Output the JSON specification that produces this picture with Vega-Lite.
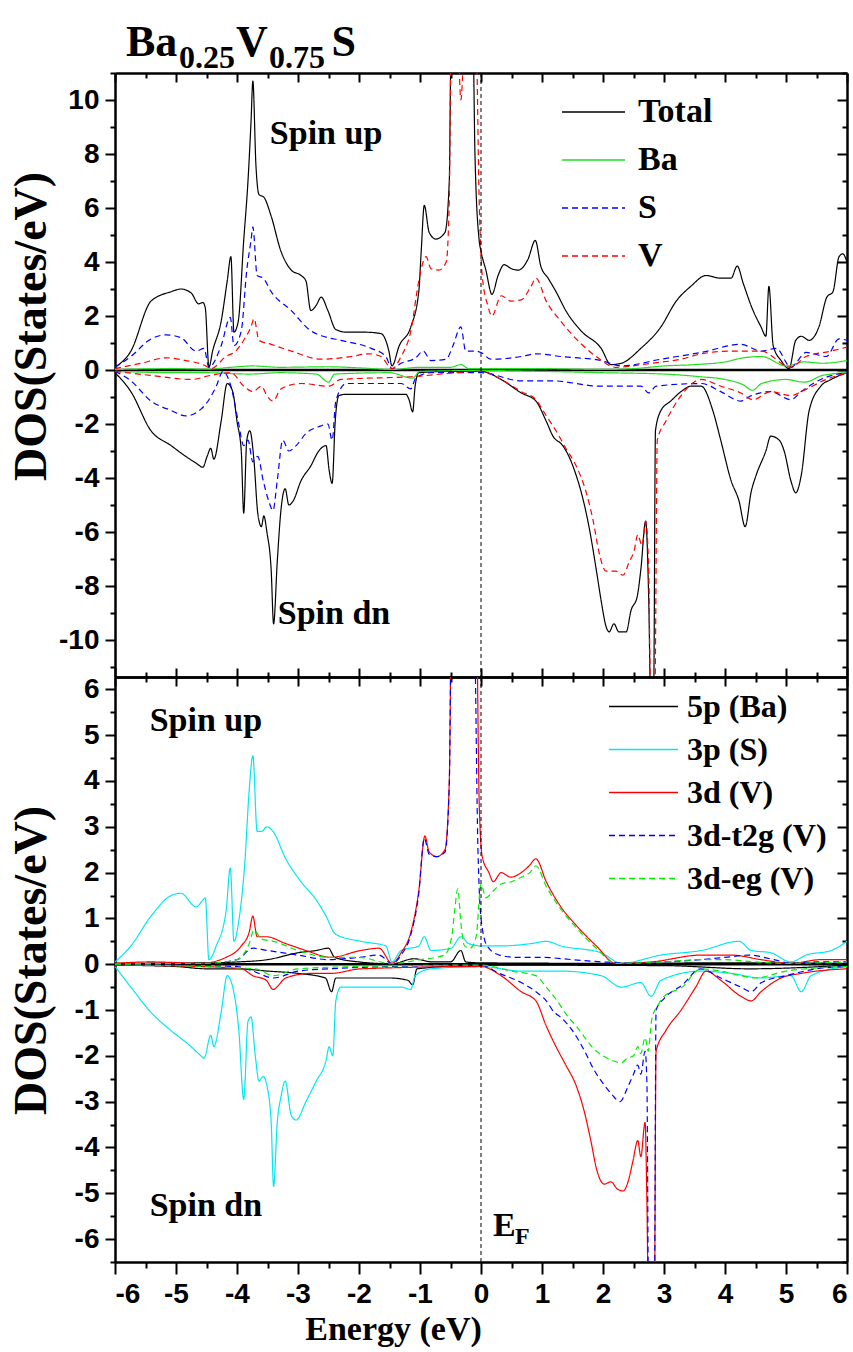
{
"$schema": "https://vega.github.io/schema/vega-lite/v6.json",
"padding": {"left": 7, "top": 20, "right": 7, "bottom": 5},
"spacing": 0,
"bounds": "flush",
"config": {
 "view": {"stroke": null},
 "axis": {"grid": false, "domainColor": "#000", "domainWidth": 2.5, "tickColor": "#000", "tickWidth": 2, "labelColor": "#000", "labelFont": "Liberation Sans", "labelFontWeight": "bold", "labelFontSize": 28, "titleColor": "#000", "titleFont": "Liberation Serif", "titleFontWeight": "bold"},
 "legend": {"labelFont": "Liberation Serif", "labelFontWeight": "bold", "labelColor": "#000", "symbolType": "stroke"},
 "text": {"font": "Liberation Serif", "fontWeight": "bold", "color": "#000"}
},
"resolve": {"scale": {"x": "independent", "y": "independent", "color": "independent", "strokeDash": "independent"}, "legend": {"color": "independent", "strokeDash": "independent"}},
"datasets": {
 "one": [{}],
 "top": [
  {"s": "Total", "p": "u", "E": [-6,-5.74,-5.41,-5.08,-4.92,-4.75,-4.63,-4.56,-4.52,-4.46,-4.4,-4.26,-4.16,-4.1,-4.05,-3.98,-3.89,-3.82,-3.77,-3.74,-3.69,-3.64,-3.56,-3.44,-3.28,-3.11,-2.95,-2.87,-2.79,-2.7,-2.62,-2.51,-2.38,-2.2,-1.9,-1.64,-1.51,-1.46,-1.34,-1.15,-1.02,-0.98,-0.93,-0.85,-0.74,-0.59,-0.52,-0.49,-0.13,-0.1,-0.03,0,0.08,0.18,0.28,0.38,0.5,0.61,0.77,0.89,0.98,1.1,1.23,1.39,1.64,1.97,2.13,2.3,2.62,2.95,3.2,3.44,3.69,3.93,4.1,4.2,4.3,4.46,4.59,4.67,4.72,4.79,4.92,5.05,5.16,5.25,5.38,5.54,5.67,5.77,5.87,5.93,6],
   "d": [0.1,0.7,2.55,2.9,3.0,2.85,2.45,2.5,2.3,0.1,0.7,1.8,3.3,4.2,1.4,1.8,4.8,7.0,9.2,10.7,7.6,6.5,6.4,5.7,4.4,3.7,3.5,3.3,2.2,2.4,2.7,2.2,1.5,1.4,1.4,1.35,0.7,0.15,0.9,1.6,2.9,4.4,6.1,5.1,4.85,5.1,7.0,12,12,8.1,4.8,4.4,3.7,2.8,3.5,3.9,3.75,3.7,4.1,4.8,3.85,3.4,2.9,2.2,1.45,0.8,0.2,0.25,0.8,1.6,2.55,3.1,3.5,3.4,3.4,3.85,3.2,2.2,1.6,1.25,3.1,0.9,0.35,0.05,1.1,1.25,1.1,1.6,2.7,2.9,4.2,4.3,4.0]},
  {"s": "Total", "p": "d", "E": [-6,-5.74,-5.41,-5.08,-4.84,-4.67,-4.56,-4.49,-4.43,-4.38,-4.26,-4.16,-4.07,-4.0,-3.93,-3.89,-3.84,-3.79,-3.72,-3.66,-3.6,-3.56,-3.51,-3.44,-3.4,-3.34,-3.28,-3.21,-3.15,-3.08,-2.95,-2.79,-2.66,-2.54,-2.49,-2.44,-2.39,-2.33,-2.21,-1.8,-1.23,-1.18,-1.12,-1.08,-1.02,-0.5,0,0.33,0.66,0.9,1.07,1.18,1.34,1.48,1.56,1.64,1.77,1.89,1.97,2.05,2.1,2.18,2.26,2.38,2.46,2.56,2.62,2.7,2.75,2.78,2.83,2.86,2.95,3.11,3.28,3.44,3.61,3.8,3.93,4.1,4.23,4.33,4.43,4.51,4.67,4.75,4.89,4.97,5.08,5.16,5.25,5.38,5.57,5.74,6],
   "d": [-0.1,-0.8,-2.25,-2.8,-3.2,-3.45,-3.6,-3.2,-2.9,-3.3,-1.9,-0.5,-0.8,-1.9,-3.0,-5.3,-2.6,-2.25,-3.4,-5.3,-5.8,-5.4,-6.0,-7.4,-9.4,-7.1,-5.2,-4.4,-5.0,-4.85,-4.1,-3.55,-3.0,-2.8,-3.7,-4.2,-1.9,-0.95,-0.9,-0.9,-0.9,-1.1,-1.55,-0.6,-0.1,-0.05,-0.05,-0.35,-0.85,-1.15,-1.9,-2.45,-2.8,-3.4,-3.9,-4.5,-5.8,-7.4,-8.55,-9.5,-9.7,-9.4,-9.7,-9.7,-8.9,-8.4,-7.4,-5.6,-8.55,-12,-12,-2.25,-1.5,-1.15,-0.8,-0.6,-0.6,-1.5,-2.6,-4.1,-4.85,-5.8,-4.5,-3.9,-3.0,-2.45,-2.6,-3.0,-4.1,-4.55,-3.9,-1.5,-0.6,-0.35,-0.1]},
  {"s": "Ba", "p": "u", "E": [-6,-5,-4.5,-4.1,-3.74,-3.3,-2.5,-2,-1.46,-1,-0.5,-0.33,-0.2,0,1,2,2.5,3,3.5,4,4.3,4.6,5,5.3,5.6,6],
   "d": [0.02,0.05,0.03,0.1,0.15,0.1,0.12,0.08,0.02,0.1,0.1,0.2,0.05,0.05,0.05,0.02,0.05,0.15,0.2,0.3,0.45,0.5,0.15,0.3,0.25,0.35]},
  {"s": "Ba", "p": "d", "E": [-6,-5,-4.5,-3.8,-3.3,-2.7,-2.5,-2.4,-1.5,-1.12,-1,0,1,2,3,3.6,4,4.3,4.45,4.6,5,5.3,5.6,6],
   "d": [-0.05,-0.1,-0.1,-0.15,-0.1,-0.15,-0.45,-0.15,-0.1,-0.3,-0.05,-0.02,-0.05,-0.1,-0.15,-0.25,-0.35,-0.55,-0.75,-0.5,-0.35,-0.45,-0.2,-0.1]},
  {"s": "S", "p": "u", "E": [-6,-5.74,-5.41,-5.16,-4.92,-4.67,-4.54,-4.46,-4.26,-4.11,-4.05,-3.93,-3.84,-3.77,-3.74,-3.67,-3.57,-3.44,-3.11,-2.79,-2.59,-2.3,-1.8,-1.56,-1.46,-1.31,-1.07,-0.95,-0.82,-0.57,-0.46,-0.33,-0.25,-0.08,0,0.16,0.66,0.9,1.31,1.97,2.3,2.95,3.61,4.26,4.59,4.84,5.08,5.33,5.66,5.87,6],
   "d": [0.1,0.5,1.15,1.3,1.2,0.7,0.8,0.1,0.9,1.95,0.9,1.45,3.7,4.8,5.3,3.5,3.4,2.9,2.2,1.45,1.25,1.1,0.8,0.5,0.05,0.25,0.45,0.7,0.35,0.4,0.9,1.6,0.7,0.7,0.65,0.4,0.5,0.6,0.5,0.35,0.15,0.4,0.65,0.95,0.7,0.8,0.1,0.65,0.5,1.15,1.1]},
  {"s": "S", "p": "d", "E": [-6,-5.74,-5.41,-5.08,-4.84,-4.59,-4.46,-4.34,-4.23,-4.1,-3.98,-3.89,-3.82,-3.74,-3.66,-3.57,-3.48,-3.41,-3.34,-3.25,-3.15,-3.03,-2.87,-2.66,-2.51,-2.44,-2.38,-2.21,-1.31,-1.15,-1.07,-0.82,0,0.66,1.15,1.97,2.62,2.75,2.87,3.61,3.93,4.26,4.43,4.75,5.08,5.25,5.57,6],
   "d": [-0.05,-0.4,-1.15,-1.5,-1.7,-1.45,-1.1,-0.6,-0.05,-0.6,-1.9,-2.8,-2.6,-3.4,-3.2,-4.1,-4.85,-5.2,-4.1,-2.6,-3.0,-2.8,-2.35,-2.1,-2.0,-2.6,-1.15,-0.5,-0.5,-0.7,-0.3,-0.1,-0.1,-0.4,-0.4,-0.6,-0.6,-0.85,-0.6,-0.5,-0.8,-1.15,-0.95,-0.8,-1.1,-0.8,-0.35,-0.1]},
  {"s": "V", "p": "u", "E": [-6,-5.57,-5.16,-4.84,-4.51,-4.43,-4.18,-4.02,-3.89,-3.77,-3.72,-3.64,-3.44,-3.11,-2.62,-2.13,-1.84,-1.64,-1.46,-1.31,-1.15,-1.02,-0.95,-0.9,-0.82,-0.69,-0.57,-0.52,-0.49,-0.38,-0.33,-0.27,-0.08,-0.03,0.02,0.11,0.18,0.33,0.49,0.66,0.82,0.9,1.07,1.31,1.56,1.89,2.21,2.79,3.28,3.61,4.1,4.59,5.08,5.33,5.74,6],
   "d": [0.05,0.25,0.45,0.35,0.15,0.05,0.5,0.7,1.1,1.6,1.9,1.1,0.95,0.7,0.4,0.5,0.6,0.5,0.05,0.5,1.45,3.3,4.0,4.2,3.75,3.7,4.0,6.3,12,12,10.0,12,12,6.3,3.5,2.4,2.0,2.75,2.55,2.6,3.1,3.4,2.55,1.8,1.15,0.5,0.1,0.25,0.4,0.6,0.7,0.7,0.1,0.5,0.7,0.85]},
  {"s": "V", "p": "d", "E": [-6,-5.41,-4.75,-4.43,-4.1,-3.89,-3.74,-3.6,-3.51,-3.41,-3.28,-2.95,-2.49,-2.3,-1.15,0,0.33,0.66,0.9,1.07,1.23,1.39,1.56,1.72,1.84,1.93,2.05,2.21,2.33,2.43,2.51,2.57,2.64,2.7,2.75,2.78,2.85,2.89,3.03,3.28,3.61,3.93,4.26,4.46,4.75,5.08,5.25,5.66,6],
   "d": [-0.05,-0.2,-0.35,-0.2,-0.1,-0.6,-0.8,-0.6,-0.95,-1.15,-0.7,-0.5,-0.6,-0.35,-0.25,-0.05,-0.35,-0.8,-1.1,-1.7,-2.25,-2.9,-3.55,-4.5,-5.6,-6.7,-7.45,-7.45,-7.6,-7.1,-6.7,-6.1,-6.5,-5.6,-7.45,-12,-12,-2.6,-1.9,-0.95,-0.35,-0.6,-0.85,-1.1,-0.8,-0.95,-0.8,-0.35,-0.1]}
 ],
 "bot": [
  {"s": "5p (Ba)", "p": "u", "E": [-6,-4.5,-4,-3.5,-3,-2.7,-2.5,-2.4,-2,-1.46,-1.1,-0.8,-0.5,-0.33,-0.25,0,2,4,6],
   "d": [0.02,0.03,0.05,0.1,0.25,0.3,0.35,0.15,0.05,0.01,0.12,0.05,0.05,0.3,0.05,0.03,0.02,0.03,0.02]},
  {"s": "5p (Ba)", "p": "d", "E": [-6,-5,-4.5,-4,-3.5,-3,-2.55,-2.45,-2.38,-2,-1.5,-1.2,-1.12,-1.05,0,3,4.4,6],
   "d": [-0.02,-0.05,-0.1,-0.1,-0.15,-0.2,-0.3,-0.6,-0.3,-0.3,-0.3,-0.35,-0.45,-0.1,-0.02,-0.03,-0.1,-0.02]},
  {"s": "3p (S)", "p": "u", "E": [-6,-5.74,-5.41,-5.08,-4.92,-4.67,-4.56,-4.52,-4.46,-4.34,-4.18,-4.11,-4.05,-3.97,-3.87,-3.8,-3.74,-3.67,-3.6,-3.51,-3.41,-3.2,-2.95,-2.7,-2.54,-2.38,-1.97,-1.56,-1.46,-1.31,-1.02,-0.93,-0.82,-0.49,-0.33,-0.2,0,0.33,0.82,1.07,1.31,1.97,2.3,2.95,3.61,4.23,4.43,4.75,5.08,5.33,5.74,6],
   "d": [0.05,0.4,1.05,1.5,1.55,1.25,1.4,1.45,0.1,0.4,1.15,2.1,0.5,0.95,2.25,3.8,4.55,2.9,2.9,3.0,2.9,2.3,1.8,1.4,1.05,0.65,0.5,0.4,0.05,0.3,0.4,0.6,0.3,0.35,0.6,0.45,0.4,0.4,0.45,0.5,0.4,0.25,0.02,0.2,0.3,0.5,0.3,0.25,0.05,0.2,0.3,0.5]},
  {"s": "3p (S)", "p": "d", "E": [-6,-5.74,-5.41,-5.08,-4.75,-4.59,-4.54,-4.43,-4.38,-4.26,-4.16,-4.07,-3.97,-3.89,-3.82,-3.77,-3.7,-3.64,-3.57,-3.51,-3.44,-3.4,-3.34,-3.28,-3.21,-3.11,-3.03,-2.87,-2.7,-2.54,-2.49,-2.43,-2.38,-2.3,-1.31,-1.15,-1.08,-0.82,0,0.66,1.31,1.97,2.3,2.62,2.79,2.95,3.61,4.1,4.59,5.08,5.25,5.41,6],
   "d": [-0.05,-0.5,-1.05,-1.45,-1.8,-2.0,-2.05,-1.55,-1.8,-1.05,-0.25,-0.5,-1.45,-2.95,-1.25,-1.15,-2.0,-2.55,-2.45,-2.65,-3.45,-4.85,-3.45,-2.9,-2.55,-3.3,-3.4,-3.0,-2.55,-2.1,-1.8,-2.0,-0.8,-0.5,-0.5,-0.55,-0.25,-0.1,-0.05,-0.15,-0.15,-0.25,-0.5,-0.4,-0.7,-0.35,-0.15,-0.2,-0.3,-0.25,-0.6,-0.25,-0.05]},
  {"s": "3d (V)", "p": "u", "E": [-6,-5.41,-4.59,-4.18,-3.93,-3.8,-3.74,-3.67,-3.52,-3.2,-2.87,-2.46,-1.97,-1.67,-1.46,-1.31,-1.15,-1.02,-0.92,-0.85,-0.72,-0.59,-0.52,-0.48,-0.08,-0.03,0.02,0.13,0.2,0.33,0.49,0.66,0.79,0.9,1.07,1.31,1.56,1.89,2.21,2.79,3.61,4.1,4.59,5.08,5.57,6],
   "d": [0.02,0.05,0.02,0.15,0.4,0.7,1.05,0.6,0.6,0.45,0.3,0.15,0.3,0.35,0.02,0.25,0.7,1.6,2.8,2.45,2.35,2.5,4.0,8,8,3.55,2.35,2.0,1.8,2.0,1.9,2.0,2.15,2.3,1.8,1.25,0.85,0.4,0.02,0.05,0.2,0.2,0.1,0.02,0.1,0.1]},
  {"s": "3d (V)", "p": "d", "E": [-6,-4.59,-3.93,-3.74,-3.52,-3.41,-3.2,-2.79,-2.46,-1.97,0,0.33,0.66,0.9,1.07,1.23,1.39,1.56,1.69,1.8,1.9,2.02,2.13,2.23,2.33,2.41,2.49,2.57,2.62,2.69,2.72,2.75,2.84,2.87,3.03,3.28,3.52,3.69,3.93,4.26,4.43,4.59,4.92,5.25,6],
   "d": [-0.02,-0.05,-0.1,-0.25,-0.35,-0.55,-0.3,-0.2,-0.2,-0.1,-0.05,-0.25,-0.6,-0.8,-1.35,-1.8,-2.2,-2.65,-3.2,-3.85,-4.5,-4.8,-4.75,-4.9,-4.95,-4.75,-4.3,-3.85,-4.2,-3.45,-5.2,-8,-8,-1.9,-1.45,-1.0,-0.5,-0.15,-0.35,-0.7,-0.8,-0.6,-0.3,-0.2,-0.1]},
  {"s": "3d-t2g (V)", "p": "u", "E": [-6,-4.5,-4,-3.74,-3.5,-3,-2.5,-2,-1.67,-1.46,-1.31,-1.15,-1.02,-0.93,-0.85,-0.72,-0.59,-0.52,-0.48,-0.12,-0.05,0,0.1,0.3,0.6,1,1.5,2,2.5,3,3.6,4,4.4,4.8,5.1,5.5,6],
   "d": [0.01,0.02,0.1,0.35,0.3,0.2,0.1,0.15,0.2,0.01,0.2,0.65,1.55,2.75,2.4,2.35,2.45,3.9,8,8,2.5,1.0,0.4,0.2,0.15,0.15,0.1,0.05,0.02,0.05,0.1,0.15,0.2,0.1,0.02,0.05,0.05]},
  {"s": "3d-t2g (V)", "p": "d", "E": [-6,-4,-3.74,-3.4,-3,-2.5,-1.5,0,0.3,0.66,0.9,1.07,1.2,1.3,1.5,1.7,1.85,2,2.15,2.28,2.4,2.5,2.57,2.62,2.69,2.72,2.75,2.84,2.87,3,3.3,3.6,3.93,4.26,4.43,4.6,5,5.5,6],
   "d": [-0.01,-0.05,-0.15,-0.3,-0.15,-0.1,-0.05,-0.02,-0.2,-0.4,-0.6,-0.8,-1.05,-1.15,-1.45,-1.9,-2.3,-2.6,-2.85,-3.0,-2.7,-2.4,-2.2,-2.4,-1.9,-2.6,-8,-8,-1.0,-0.75,-0.45,-0.1,-0.3,-0.5,-0.6,-0.4,-0.25,-0.1,-0.05]},
  {"s": "3d-eg (V)", "p": "u", "E": [-6,-4.5,-4,-3.8,-3.72,-3.6,-3.4,-3,-2.5,-2,-1.46,-1,-0.6,-0.48,-0.43,-0.38,-0.33,-0.27,-0.18,-0.08,0,0.08,0.2,0.33,0.5,0.66,0.8,0.9,1.07,1.31,1.56,1.89,2.21,3,3.6,4,4.5,5,6],
   "d": [0.01,0.02,0.1,0.45,0.75,0.55,0.5,0.3,0.15,0.15,0.01,0.1,0.2,0.6,1.2,1.65,0.9,0.4,0.35,0.6,1.75,1.45,1.6,1.75,1.8,1.9,2.0,2.15,1.7,1.2,0.8,0.35,0.02,0.05,0.1,0.1,0.05,0.02,0.05]},
  {"s": "3d-eg (V)", "p": "d", "E": [-6,-3.7,-3.4,-3,-2,0,0.5,0.9,1.07,1.25,1.4,1.56,1.7,1.85,2,2.15,2.3,2.4,2.5,2.57,2.62,2.69,2.74,2.8,2.9,3,3.3,3.6,3.93,4.26,4.5,5,6],
   "d": [-0.01,-0.1,-0.25,-0.1,-0.05,-0.02,-0.15,-0.25,-0.5,-0.8,-1.1,-1.35,-1.6,-1.85,-2.0,-2.1,-2.15,-2.05,-2.0,-1.8,-1.95,-1.6,-1.9,-1.2,-0.9,-0.7,-0.5,-0.1,-0.15,-0.25,-0.3,-0.15,-0.05]}
 ]
},
"vconcat": [
 {
  "width": 732, "height": 604,
  "resolve": {"axis": {"x": "independent", "y": "independent"}},
  "layer": [
   {"data": {"name": "one"}, "mark": {"type": "rule", "color": "#000", "strokeWidth": 2.5},
    "encoding": {"y": {"datum": 0, "type": "quantitative", "scale": {"domain": [-11.37, 11], "nice": false, "zero": false}, "axis": null}}},
   {"data": {"name": "top"}, "transform": [{"flatten": ["E", "d"]}],
    "mark": {"type": "line", "clip": true, "strokeWidth": 1.2, "interpolate": "monotone"},
    "encoding": {
     "x": {"field": "E", "type": "quantitative", "scale": {"domain": [-6, 6], "nice": false, "zero": false},
       "axis": {"orient": "bottom", "values": [-6,-5.5,-5,-4.5,-4,-3.5,-3,-2.5,-2,-1.5,-1,-0.5,0,0.5,1,1.5,2,2.5,3,3.5,4,4.5,5,5.5,6], "labels": false, "title": null, "tickSize": {"condition": {"test": "datum.value % 1 !== 0", "value": -5}, "value": -9}}},
     "y": {"field": "d", "type": "quantitative", "scale": {"domain": [-11.37, 11], "nice": false, "zero": false},
       "axis": {"orient": "left", "values": [-11,-10,-9,-8,-7,-6,-5,-4,-3,-2,-1,0,1,2,3,4,5,6,7,8,9,10,11], "labelExpr": "datum.value % 2 === 0 ? '' + datum.value : ''", "tickSize": {"condition": {"test": "datum.value % 2 !== 0", "value": 5}, "value": 10}, "labelPadding": 6, "title": "DOS(States/eV)", "titleFontSize": 46, "titleX": -84, "titleY": 253, "titleAngle": -90, "titleBaseline": "middle", "titleAlign": "center"}},
     "color": {"field": "s", "type": "nominal", "scale": {"domain": ["Total", "Ba", "S", "V"], "range": ["#000000", "#22dd22", "#0000ff", "#ff0000"]},
       "legend": {"title": null, "orient": "none", "legendX": 446, "legendY": 16, "symbolType": "stroke", "symbolSize": 3969, "symbolStrokeWidth": 1.5, "labelFontSize": 34, "labelOffset": 12, "rowPadding": 2, "clipHeight": 46}},
     "strokeDash": {"field": "s", "type": "nominal", "scale": {"domain": ["Total", "Ba", "S", "V"], "range": [[1, 0], [1, 0], [6, 4], [6, 4]]},
       "legend": {"title": null, "orient": "none", "legendX": 446, "legendY": 16, "symbolType": "stroke", "symbolSize": 3969, "symbolStrokeWidth": 1.5, "labelFontSize": 34, "labelOffset": 12, "rowPadding": 2, "clipHeight": 46}},
     "detail": {"field": "p"}
    }},
   {"data": {"name": "one"}, "mark": {"type": "rule", "color": "#000", "strokeWidth": 1, "strokeDash": [4, 3]},
    "encoding": {"x": {"datum": 0, "type": "quantitative", "scale": {"domain": [-6, 6], "nice": false, "zero": false}, "axis": null}}},
   {"data": {"name": "one"}, "mark": {"type": "text", "text": "Spin up", "fontSize": 34, "align": "center", "baseline": "middle"},
    "encoding": {
     "x": {"datum": -2.54, "type": "quantitative", "scale": {"domain": [-6, 6], "nice": false, "zero": false},
       "axis": {"orient": "top", "values": [-6,-5.5,-5,-4.5,-4,-3.5,-3,-2.5,-2,-1.5,-1,-0.5,0,0.5,1,1.5,2,2.5,3,3.5,4,4.5,5,5.5,6], "labels": false, "title": null, "tickSize": {"condition": {"test": "datum.value % 1 !== 0", "value": -5}, "value": -9}}},
     "y": {"datum": 8.74, "type": "quantitative", "scale": {"domain": [-11.37, 11], "nice": false, "zero": false},
       "axis": {"orient": "right", "values": [-11,-10,-9,-8,-7,-6,-5,-4,-3,-2,-1,0,1,2,3,4,5,6,7,8,9,10,11], "labels": false, "title": null, "tickSize": {"condition": {"test": "datum.value % 2 !== 0", "value": -5}, "value": -10}}}
    }},
   {"data": {"name": "one"}, "mark": {"type": "text", "text": "Spin dn", "fontSize": 34, "align": "center", "baseline": "middle"},
    "encoding": {"x": {"datum": -2.41, "type": "quantitative", "axis": null}, "y": {"datum": -9.04, "type": "quantitative", "axis": null}}},
   {"data": {"name": "one"}, "mark": {"type": "text", "text": "Ba", "fontSize": 44, "align": "left", "baseline": "alphabetic"},
    "encoding": {"x": {"datum": -5.82, "type": "quantitative", "axis": null}, "y": {"datum": 11.63, "type": "quantitative", "axis": null}}},
   {"data": {"name": "one"}, "mark": {"type": "text", "text": "0.25", "fontSize": 32, "align": "left", "baseline": "alphabetic"},
    "encoding": {"x": {"datum": -4.951, "type": "quantitative", "axis": null}, "y": {"datum": 11.19, "type": "quantitative", "axis": null}}},
   {"data": {"name": "one"}, "mark": {"type": "text", "text": "V", "fontSize": 44, "align": "left", "baseline": "alphabetic"},
    "encoding": {"x": {"datum": -4.016, "type": "quantitative", "axis": null}, "y": {"datum": 11.63, "type": "quantitative", "axis": null}}},
   {"data": {"name": "one"}, "mark": {"type": "text", "text": "0.75", "fontSize": 32, "align": "left", "baseline": "alphabetic"},
    "encoding": {"x": {"datum": -3.475, "type": "quantitative", "axis": null}, "y": {"datum": 11.19, "type": "quantitative", "axis": null}}},
   {"data": {"name": "one"}, "mark": {"type": "text", "text": "S", "fontSize": 44, "align": "left", "baseline": "alphabetic"},
    "encoding": {"x": {"datum": -2.45, "type": "quantitative", "axis": null}, "y": {"datum": 11.63, "type": "quantitative", "axis": null}}}
  ]
 },
 {
  "width": 732, "height": 585,
  "resolve": {"axis": {"x": "independent", "y": "independent"}},
  "layer": [
   {"data": {"name": "one"}, "mark": {"type": "rule", "color": "#000", "strokeWidth": 2.5},
    "encoding": {"y": {"datum": 0, "type": "quantitative", "scale": {"domain": [-6.5, 6.27], "nice": false, "zero": false}, "axis": null}}},
   {"data": {"name": "bot"}, "transform": [{"flatten": ["E", "d"]}],
    "mark": {"type": "line", "clip": true, "strokeWidth": 1.2, "interpolate": "monotone"},
    "encoding": {
     "x": {"field": "E", "type": "quantitative", "scale": {"domain": [-6, 6], "nice": false, "zero": false},
       "axis": {"orient": "bottom", "values": [-6,-5.5,-5,-4.5,-4,-3.5,-3,-2.5,-2,-1.5,-1,-0.5,0,0.5,1,1.5,2,2.5,3,3.5,4,4.5,5,5.5,6], "labelExpr": "datum.value % 1 === 0 ? '' + datum.value : ''", "tickSize": {"condition": {"test": "datum.value % 1 !== 0", "value": 6}, "value": 12}, "labelPadding": 6, "title": "Energy (eV)", "titleFontSize": 34, "titleX": 278, "titleY": 77, "titleBaseline": "alphabetic", "titleAlign": "center"}},
     "y": {"field": "d", "type": "quantitative", "scale": {"domain": [-6.5, 6.27], "nice": false, "zero": false},
       "axis": {"orient": "left", "values": [-6.5,-6,-5.5,-5,-4.5,-4,-3.5,-3,-2.5,-2,-1.5,-1,-0.5,0,0.5,1,1.5,2,2.5,3,3.5,4,4.5,5,5.5,6], "labelExpr": "datum.value % 1 === 0 ? '' + datum.value : ''", "tickSize": {"condition": {"test": "datum.value % 1 !== 0", "value": 5}, "value": 10}, "labelPadding": 6, "title": "DOS(States/eV)", "titleFontSize": 46, "titleX": -84, "titleY": 283, "titleAngle": -90, "titleBaseline": "middle", "titleAlign": "center"}},
     "color": {"field": "s", "type": "nominal", "scale": {"domain": ["5p (Ba)", "3p (S)", "3d (V)", "3d-t2g (V)", "3d-eg (V)"], "range": ["#000000", "#00e8f0", "#ff0000", "#0000ff", "#00ee00"]},
       "legend": {"title": null, "orient": "none", "legendX": 493, "legendY": 9, "symbolType": "stroke", "symbolSize": 4761, "symbolStrokeWidth": 1.5, "labelFontSize": 32, "labelOffset": 8, "rowPadding": 2, "clipHeight": 41}},
     "strokeDash": {"field": "s", "type": "nominal", "scale": {"domain": ["5p (Ba)", "3p (S)", "3d (V)", "3d-t2g (V)", "3d-eg (V)"], "range": [[1, 0], [1, 0], [1, 0], [6, 4], [6, 4]]},
       "legend": {"title": null, "orient": "none", "legendX": 493, "legendY": 9, "symbolType": "stroke", "symbolSize": 4761, "symbolStrokeWidth": 1.5, "labelFontSize": 32, "labelOffset": 8, "rowPadding": 2, "clipHeight": 41}},
     "detail": {"field": "p"}
    }},
   {"data": {"name": "one"}, "mark": {"type": "rule", "color": "#000", "strokeWidth": 1, "strokeDash": [4, 3]},
    "encoding": {"x": {"datum": 0, "type": "quantitative", "scale": {"domain": [-6, 6], "nice": false, "zero": false}, "axis": null}}},
   {"data": {"name": "one"}, "mark": {"type": "text", "text": "Spin up", "fontSize": 34, "align": "center", "baseline": "middle"},
    "encoding": {
     "x": {"datum": -4.51, "type": "quantitative", "scale": {"domain": [-6, 6], "nice": false, "zero": false},
       "axis": {"orient": "top", "values": [-6,-5.5,-5,-4.5,-4,-3.5,-3,-2.5,-2,-1.5,-1,-0.5,0,0.5,1,1.5,2,2.5,3,3.5,4,4.5,5,5.5,6], "labels": false, "title": null, "tickSize": {"condition": {"test": "datum.value % 1 !== 0", "value": -5}, "value": -9}}},
     "y": {"datum": 5.31, "type": "quantitative", "scale": {"domain": [-6.5, 6.27], "nice": false, "zero": false},
       "axis": {"orient": "right", "values": [-6.5,-6,-5.5,-5,-4.5,-4,-3.5,-3,-2.5,-2,-1.5,-1,-0.5,0,0.5,1,1.5,2,2.5,3,3.5,4,4.5,5,5.5,6], "labels": false, "title": null, "tickSize": {"condition": {"test": "datum.value % 1 !== 0", "value": -5}, "value": -10}}}
    }},
   {"data": {"name": "one"}, "mark": {"type": "text", "text": "Spin dn", "fontSize": 34, "align": "center", "baseline": "middle"},
    "encoding": {"x": {"datum": -4.51, "type": "quantitative", "axis": null}, "y": {"datum": -5.28, "type": "quantitative", "axis": null}}},
   {"data": {"name": "one"}, "mark": {"type": "text", "text": "E", "fontSize": 34, "align": "left", "baseline": "alphabetic"},
    "encoding": {"x": {"datum": 0.197, "type": "quantitative", "axis": null}, "y": {"datum": -5.93, "type": "quantitative", "axis": null}}},
   {"data": {"name": "one"}, "mark": {"type": "text", "text": "F", "fontSize": 24, "align": "left", "baseline": "alphabetic"},
    "encoding": {"x": {"datum": 0.557, "type": "quantitative", "axis": null}, "y": {"datum": -6.11, "type": "quantitative", "axis": null}}}
  ]
 }
]
}
